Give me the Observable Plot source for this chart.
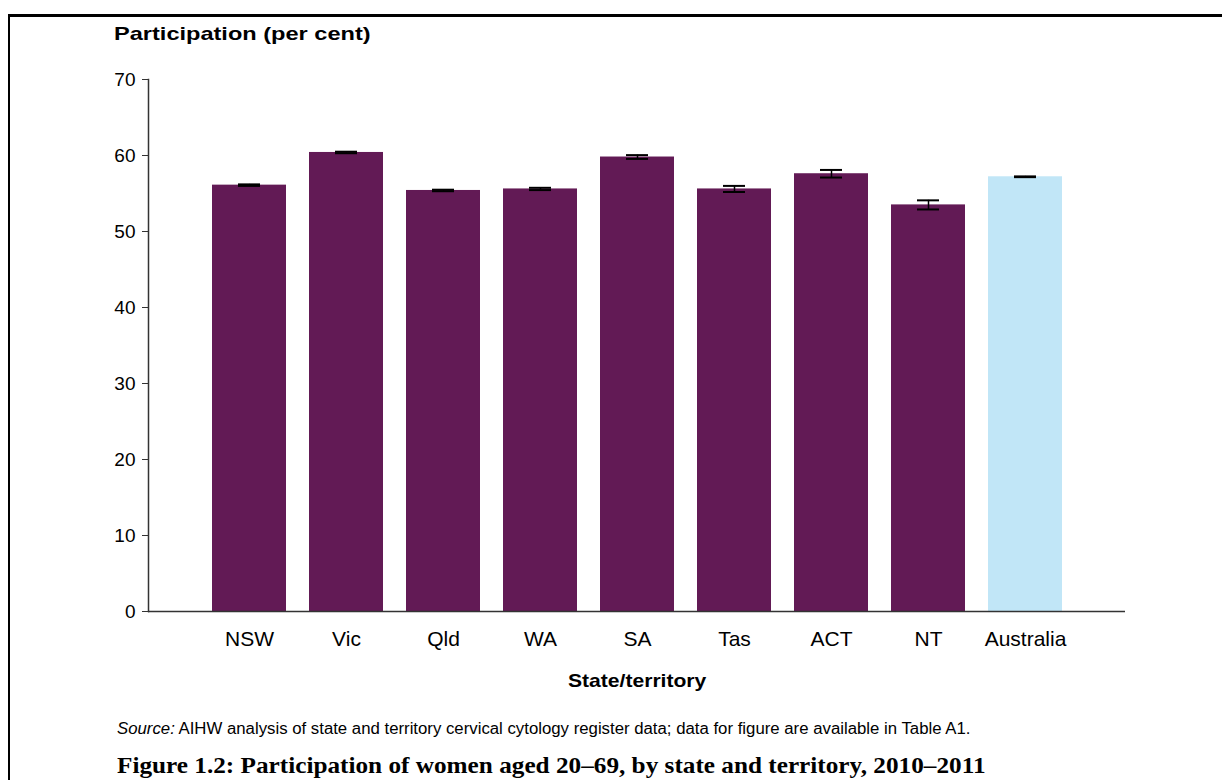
<!DOCTYPE html>
<html><head><meta charset="utf-8">
<script src="https://cdn.jsdelivr.net/npm/d3@7"></script>
<script src="https://cdn.jsdelivr.net/npm/@observablehq/plot@0.6"></script>
<style>
html,body{margin:0;background:#fff;font-family:"Liberation Sans",Arial,sans-serif;color:#000;overflow:hidden;}
#wrap{position:relative;width:1222px;height:780px;overflow:hidden;}
#border{position:absolute;left:8px;top:14px;width:1214px;height:766px;border-left:2px solid #000;border-top:3px solid #000;box-sizing:border-box;}
#chart{position:absolute;left:0;top:0;}
.t{position:absolute;white-space:nowrap;line-height:1;transform-origin:0 50%;}
#ytitle{left:114px;top:24px;font-weight:bold;font-size:19px;transform:scaleX(1.24);}
#xtitle{left:568px;top:671px;font-weight:bold;font-size:19px;transform:scaleX(1.11);}
#source{left:117px;top:721px;font-size:16px;transform:scaleX(1.048);}
#caption{left:117px;top:754px;font-family:"Liberation Serif","DejaVu Serif",serif;font-weight:bold;font-size:23px;transform:scaleX(1.097);}
</style></head>
<body>
<div id="wrap">
  <div id="border"></div>
  <div id="chart"></div>
  <div class="t" id="ytitle">Participation (per cent)</div>
  <div class="t" id="xtitle">State/territory</div>
  <div class="t" id="source"><i>Source:</i> AIHW analysis of state and territory cervical cytology register data; data for figure are available in Table A1.</div>
  <div class="t" id="caption">Figure 1.2: Participation of women aged 20–69, by state and territory, 2010–2011</div>
</div>
<script>
const states = ["NSW","Vic","Qld","WA","SA","Tas","ACT","NT","Australia"];
const participation = [56.1,60.4,55.4,55.6,59.8,55.6,57.6,53.5,57.2];
const ciLow  = [56.0,60.3,55.3,55.45,59.55,55.2,57.1,52.9,57.15];
const ciHigh = [56.2,60.5,55.5,55.75,60.05,56.0,58.1,54.1,57.25];
const yTicks = [0,10,20,30,40,50,60,70];
const purple = "#621a55";
const lightBlue = "#c1e6f7";

const data = states.map((s,i)=>({state:s, value:participation[i], lo:ciLow[i], hi:ciHigh[i], isNational: s==="Australia"}));

const chart = Plot.plot({
  width:1222, height:700,
  marginLeft:148, marginRight:97, marginTop:79, marginBottom:89,
  style:{fontFamily:"'Liberation Sans', Arial, sans-serif", color:"#000", background:"transparent"},
  x:{domain:states, paddingInner:0.24, paddingOuter:0.62, label:null},
  y:{domain:[0,70], label:null},
  marks:[
    Plot.barY(data,{x:"state", y:"value", fill:d=>d.isNational?lightBlue:purple}),
    Plot.ruleX(data,{x:"state", y1:"lo", y2:"hi", stroke:"#000", strokeWidth:1.5}),
    Plot.tickY(data,{x:"state", y:"lo", stroke:"#000", strokeWidth:2, insetLeft:26, insetRight:26}),
    Plot.tickY(data,{x:"state", y:"hi", stroke:"#000", strokeWidth:2, insetLeft:26, insetRight:26}),
    Plot.ruleY([0],{stroke:"#333", strokeWidth:1.5}),
    Plot.frame({anchor:"left", stroke:"#333", strokeWidth:1.5}),
    Plot.axisY({ticks:yTicks, tickSize:6, tickPadding:7, fontSize:19, label:null, stroke:"#333"}),
    Plot.axisX({tickSize:0, tickPadding:20, fontSize:21, label:null})
  ]
});
document.getElementById("chart").appendChild(chart);
</script>
</body></html>
